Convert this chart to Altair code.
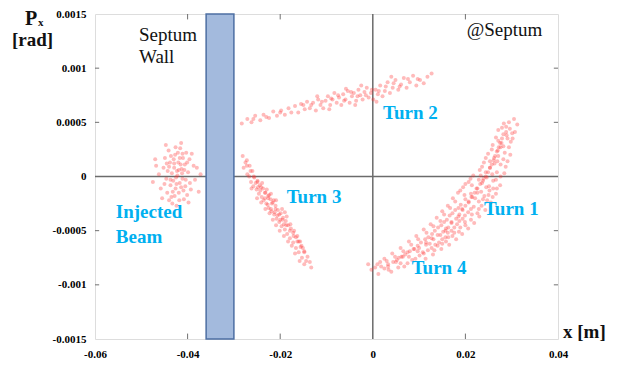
import altair as alt
import pandas as pd

# ---------------- data ----------------
inj_pts = [
    (-0.0422, 0.00001), (-0.0413, 0.00007), (-0.0431, -0.00004), (-0.0405, -0.00009), (-0.0438, 0.00013),
    (-0.0419, -0.00015), (-0.0427, 0.00020), (-0.0446, -0.00002), (-0.0399, 0.00004), (-0.0410, 0.00017),
    (-0.0435, -0.00019), (-0.0416, 0.00026), (-0.0452, 0.00008), (-0.0393, -0.00012), (-0.0424, -0.00027),
    (-0.0441, 0.00024), (-0.0403, 0.00022), (-0.0458, -0.00011), (-0.0387, 0.00010), (-0.0429, 0.00008),
    (-0.0417, -0.00006), (-0.0434, 0.00003), (-0.0408, -0.00021), (-0.0444, -0.00015), (-0.0420, 0.00013),
    (-0.0411, -0.00002), (-0.0426, -0.00011), (-0.0449, 0.00017), (-0.0396, 0.00016), (-0.0437, -0.00008),
    (-0.0414, 0.00031), (-0.0401, -0.00017), (-0.0430, 0.00016), (-0.0462, 0.00002), (-0.0384, -0.00003),
    (-0.0423, 0.00005), (-0.0440, 0.00009), (-0.0406, 0.00011), (-0.0418, -0.00022), (-0.0433, -0.00025),
    (-0.0425, -0.00001), (-0.0412, 0.00003), (-0.0447, 0.00029), (-0.0391, 0.00021), (-0.0421, 0.00022),
    (-0.0455, -0.00020), (-0.0409, -0.00013), (-0.0436, 0.00019), (-0.0398, -0.00024), (-0.0428, -0.00018),
    (-0.0415, 0.00011), (-0.0443, 0.00005),
    (-0.0419, 0.00006), (-0.0432, -0.00014), (-0.0407, 0.00006), (-0.0426, 0.00027), (-0.0414, -0.00010),
    (-0.0445, 0.00012), (-0.0401, 0.00013), (-0.0437, -0.00003), (-0.0424, -0.00007), (-0.0411, 0.00021),
    (-0.0450, -0.00007), (-0.0395, -0.00006), (-0.0429, 0.00012), (-0.0417, 0.00017), (-0.0440, -0.00022),
    (-0.0404, -0.00003), (-0.0468, 0.00010), (-0.0380, 0.00008), (-0.0372, 0.00002), (-0.0376, -0.00014),
    (-0.0475, -0.00005), (-0.0470, 0.00016),
]

t2_pts = [
    (-0.0283, 0.00049), (-0.0271, 0.00053), (-0.0262, 0.00050), (-0.0254, 0.00056), (-0.0243, 0.00052),
    (-0.0236, 0.00057), (-0.0224, 0.00054), (-0.0215, 0.00060), (-0.0207, 0.00056), (-0.0198, 0.00061),
    (-0.0190, 0.00057), (-0.0182, 0.00063), (-0.0176, 0.00059),
    (-0.0168, 0.00065), (-0.0161, 0.00059), (-0.0155, 0.00067), (-0.0147, 0.00062), (-0.0142, 0.00069),
    (-0.0136, 0.00063), (-0.0129, 0.00068), (-0.0123, 0.00061), (-0.0118, 0.00071), (-0.0113, 0.00066),
    (-0.0107, 0.00063), (-0.0102, 0.00070), (-0.0097, 0.00074), (-0.0092, 0.00066), (-0.0087, 0.00071),
    (-0.0083, 0.00077), (-0.0078, 0.00068), (-0.0073, 0.00073), (-0.0068, 0.00066), (-0.0064, 0.00076),
    (-0.0059, 0.00071), (-0.0054, 0.00079), (-0.0050, 0.00068), (-0.0045, 0.00074), (-0.0041, 0.00077),
    (-0.0036, 0.00070), (-0.0031, 0.00080), (-0.0027, 0.00075), (-0.0022, 0.00071), (-0.0018, 0.00078),
    (-0.0013, 0.00082), (-0.0009, 0.00073), (-0.0004, 0.00077), (0.0001, 0.00071), (0.0006, 0.00080),
    (0.0011, 0.00076), (0.0016, 0.00084), (0.0021, 0.00074), (0.0026, 0.00079), (0.0032, 0.00087),
    (0.0037, 0.00077), (0.0043, 0.00082), (0.0049, 0.00089), (0.0055, 0.00080), (0.0061, 0.00085),
    (0.0067, 0.00091), (0.0073, 0.00082), (0.0080, 0.00087), (0.0087, 0.00093), (0.0094, 0.00084),
    (0.0102, 0.00089), (0.0110, 0.00086), (0.0118, 0.00092), (0.0127, 0.00095), (-0.0094, 0.00062),
    (-0.0038, 0.00066), (0.0008, 0.00069), (-0.0120, 0.00074), (-0.0058, 0.00081), (0.0040, 0.00092),
    (-0.0025, 0.00084),
    (-0.0150, 0.00066), (-0.0133, 0.00066), (-0.0110, 0.00069), (-0.0090, 0.00072), (-0.0075, 0.00075),
    (-0.0062, 0.00070), (-0.0047, 0.00078), (-0.0033, 0.00074), (-0.0015, 0.00075), (-0.0002, 0.00080),
    (0.0013, 0.00079), (0.0028, 0.00083), (0.0045, 0.00086), (0.0058, 0.00083), (0.0076, 0.00090),
    (0.0097, 0.00090), (-0.0200, 0.00059), (-0.0230, 0.00055), (-0.0258, 0.00053),
]

t3_pts = [
    (-0.0281, 0.00019), (-0.0272, 0.00015), (-0.0266, 0.00010), (-0.0279, 0.00008), (-0.0260, 0.00005),
    (-0.0271, 0.00002), (-0.0256, -0.00001), (-0.0263, -0.00005), (-0.0249, -0.00004), (-0.0258, -0.00009),
    (-0.0244, -0.00008), (-0.0251, -0.00012), (-0.0237, -0.00011), (-0.0246, -0.00016), (-0.0232, -0.00015),
    (-0.0240, -0.00019), (-0.0226, -0.00018), (-0.0236, -0.00022), (-0.0221, -0.00021), (-0.0230, -0.00025),
    (-0.0216, -0.00024), (-0.0225, -0.00029), (-0.0210, -0.00027), (-0.0219, -0.00032), (-0.0205, -0.00031),
    (-0.0213, -0.00035), (-0.0199, -0.00034), (-0.0208, -0.00039), (-0.0194, -0.00038), (-0.0202, -0.00042),
    (-0.0188, -0.00041), (-0.0197, -0.00046), (-0.0183, -0.00045), (-0.0190, -0.00049), (-0.0177, -0.00048),
    (-0.0185, -0.00053), (-0.0172, -0.00052), (-0.0179, -0.00057), (-0.0166, -0.00056), (-0.0172, -0.00061),
    (-0.0160, -0.00060), (-0.0166, -0.00066), (-0.0154, -0.00064), (-0.0160, -0.00070), (-0.0148, -0.00069),
    (-0.0153, -0.00075), (-0.0141, -0.00074), (-0.0136, -0.00079), (-0.0148, -0.00081), (-0.0133, -0.00084),
    (-0.0233, -0.00020), (-0.0243, -0.00013), (-0.0227, -0.00026), (-0.0220, -0.00030), (-0.0212, -0.00033),
    (-0.0206, -0.00036), (-0.0200, -0.00040), (-0.0192, -0.00044), (-0.0224, -0.00017), (-0.0214, -0.00022),
    (-0.0250, -0.00020), (-0.0190, -0.00033),
    (-0.0275, 0.00013), (-0.0267, 0.00000), (-0.0253, -0.00006), (-0.0262, -0.00011), (-0.0239, -0.00006),
    (-0.0248, -0.00010), (-0.0229, -0.00012), (-0.0241, -0.00024), (-0.0220, -0.00016), (-0.0232, -0.00030),
    (-0.0209, -0.00022), (-0.0223, -0.00034), (-0.0216, -0.00040), (-0.0196, -0.00030), (-0.0209, -0.00045),
    (-0.0186, -0.00037), (-0.0201, -0.00050), (-0.0178, -0.00044), (-0.0192, -0.00055), (-0.0170, -0.00050),
    (-0.0183, -0.00060), (-0.0163, -0.00055), (-0.0175, -0.00064), (-0.0157, -0.00060), (-0.0168, -0.00071),
    (-0.0151, -0.00066), (-0.0144, -0.00078), (-0.0158, -0.00078),
    (-0.0272, 0.00010), (-0.0264, 0.00005), (-0.0257, 0.00000), (-0.0249, -0.00005), (-0.0241, -0.00010),
    (-0.0233, -0.00015), (-0.0226, -0.00020), (-0.0218, -0.00025), (-0.0210, -0.00030), (-0.0202, -0.00035),
    (-0.0195, -0.00040), (-0.0187, -0.00045), (-0.0179, -0.00050), (-0.0171, -0.00055), (-0.0163, -0.00060),
    (-0.0156, -0.00065), (-0.0148, -0.00070),
]

t14_pts = [
    (0.0305, 0.00053), (0.0283, 0.00049), (0.0296, 0.00044), (0.0312, 0.00048), (0.0271, 0.00043),
    (0.0289, 0.00038), (0.0302, 0.00035), (0.0266, 0.00036), (0.0278, 0.00031), (0.0294, 0.00027),
    (0.0259, 0.00029), (0.0285, 0.00022), (0.0270, 0.00024), (0.0249, 0.00021), (0.0262, 0.00017),
    (0.0291, 0.00014), (0.0276, 0.00011), (0.0240, 0.00013), (0.0253, 0.00008), (0.0268, 0.00004),
    (0.0231, 0.00006), (0.0284, 0.00003), (0.0246, -0.00001), (0.0217, 0.00001), (0.0260, -0.00004),
    (0.0236, -0.00006), (0.0275, -0.00008), (0.0207, -0.00005), (0.0224, -0.00011), (0.0252, -0.00013),
    (0.0195, -0.00010), (0.0241, -0.00018), (0.0212, -0.00016), (0.0266, -0.00016), (0.0184, -0.00015),
    (0.0229, -0.00023), (0.0200, -0.00021), (0.0255, -0.00024), (0.0173, -0.00020), (0.0218, -0.00028),
    (0.0190, -0.00026), (0.0243, -0.00031), (0.0162, -0.00027), (0.0206, -0.00033), (0.0178, -0.00031),
    (0.0230, -0.00037), (0.0150, -0.00032), (0.0194, -0.00039), (0.0166, -0.00036), (0.0219, -0.00043),
    (0.0138, -0.00038), (0.0182, -0.00044), (0.0154, -0.00042), (0.0206, -0.00048), (0.0125, -0.00044),
    (0.0170, -0.00050), (0.0141, -0.00047), (0.0193, -0.00053), (0.0110, -0.00049), (0.0157, -0.00056),
    (0.0128, -0.00053), (0.0180, -0.00058), (0.0094, -0.00055), (0.0143, -0.00061), (0.0113, -0.00058),
    (0.0165, -0.00063), (0.0078, -0.00060), (0.0127, -0.00066), (0.0097, -0.00064), (0.0148, -0.00067),
    (0.0060, -0.00066), (0.0110, -0.00071), (0.0080, -0.00069), (0.0130, -0.00072), (0.0042, -0.00071),
    (0.0092, -0.00076), (0.0062, -0.00074), (0.0025, -0.00076), (0.0075, -0.00080), (0.0044, -0.00079),
    (0.0010, -0.00081), (0.0055, -0.00084), (0.0025, -0.00085), (-0.0003, -0.00086), (0.0012, -0.00090),
    (0.0040, -0.00088),
    (0.0288, 0.00041), (0.0276, 0.00027), (0.0263, 0.00012), (0.0271, 0.00019), (0.0258, 0.00002),
    (0.0244, 0.00004), (0.0236, 0.00009), (0.0251, -0.00009), (0.0229, -0.00003), (0.0214, -0.00008),
    (0.0234, -0.00014), (0.0221, -0.00020), (0.0247, -0.00022), (0.0207, -0.00024), (0.0198, -0.00017),
    (0.0235, -0.00027), (0.0212, -0.00030), (0.0185, -0.00029), (0.0226, -0.00034), (0.0199, -0.00036),
    (0.0172, -0.00034), (0.0212, -0.00040), (0.0187, -0.00041), (0.0160, -0.00040), (0.0200, -0.00045),
    (0.0176, -0.00047), (0.0148, -0.00045), (0.0186, -0.00051), (0.0162, -0.00052), (0.0134, -0.00050),
    (0.0172, -0.00055), (0.0150, -0.00058), (0.0120, -0.00056), (0.0158, -0.00060), (0.0135, -0.00063),
    (0.0104, -0.00061), (0.0140, -0.00064), (0.0119, -0.00068), (0.0088, -0.00067), (0.0101, -0.00073),
    (0.0070, -0.00072), (0.0052, -0.00077), (0.0085, -0.00077), (0.0033, -0.00081), (0.0018, -0.00083),
    (0.0114, -0.00076), (0.0298, 0.00032), (0.0282, 0.00016), (0.0301, 0.00040), (0.0268, -0.00011),
    (0.0259, -0.00019),
    (0.0294, 0.00050), (0.0279, 0.00045), (0.0307, 0.00041), (0.0271, 0.00033), (0.0291, 0.00035),
    (0.0257, 0.00025), (0.0282, 0.00028), (0.0297, 0.00020), (0.0244, 0.00017), (0.0269, 0.00014),
    (0.0287, 0.00009), (0.0233, 0.00001), (0.0253, 0.00014), (0.0276, 0.00000), (0.0211, -0.00002),
    (0.0239, -0.00002), (0.0266, -0.00003), (0.0200, -0.00007), (0.0245, -0.00010), (0.0260, -0.00011),
    (0.0189, -0.00013), (0.0226, -0.00015), (0.0250, -0.00017), (0.0178, -0.00023), (0.0215, -0.00019),
    (0.0238, -0.00021), (0.0167, -0.00029), (0.0193, -0.00030), (0.0229, -0.00030), (0.0154, -0.00035),
    (0.0185, -0.00037), (0.0214, -0.00035), (0.0146, -0.00041), (0.0170, -0.00042), (0.0199, -0.00042),
    (0.0131, -0.00046), (0.0158, -0.00048), (0.0189, -0.00047), (0.0116, -0.00052), (0.0146, -0.00054),
    (0.0176, -0.00052), (0.0098, -0.00058), (0.0131, -0.00058), (0.0163, -0.00056), (0.0083, -0.00063),
    (0.0115, -0.00063), (0.0150, -0.00062), (0.0066, -0.00069), (0.0097, -0.00069), (0.0133, -0.00068),
    (0.0048, -0.00074), (0.0078, -0.00074), (0.0108, -0.00070), (0.0030, -0.00078), (0.0060, -0.00080),
    (0.0016, -0.00079), (0.0005, -0.00084), (0.0034, -0.00086), (-0.0010, -0.00081), (0.0068, -0.00083),
    (0.0033, -0.00083), (0.0050, -0.00079), (0.0065, -0.00074), (0.0090, -0.00067), (0.0115, -0.00061),
    (0.0140, -0.00054), (0.0163, -0.00047), (0.0180, -0.00039), (0.0194, -0.00031), (0.0207, -0.00023),
    (0.0220, -0.00015), (0.0232, -0.00007), (0.0244, 0.00000), (0.0253, 0.00008), (0.0261, 0.00015),
    (0.0268, 0.00023), (0.0275, 0.00031), (0.0282, 0.00039), (0.0288, 0.00046),
    (0.0075, -0.00070), (0.0100, -0.00066), (0.0127, -0.00057), (0.0152, -0.00051), (0.0170, -0.00043),
    (0.0187, -0.00035), (0.0200, -0.00027), (0.0213, -0.00019), (0.0226, -0.00011), (0.0238, -0.00004),
    (0.0249, 0.00004), (0.0257, 0.00011), (0.0264, 0.00019), (0.0272, 0.00027), (0.0279, 0.00035),
    (0.0056, -0.00075), (0.0123, -0.00062), (0.0157, -0.00050),
]

wall_x = [-0.036, -0.030]
y_range = [-0.0015, 0.0015]
x_range = [-0.06, 0.04]
x_tick_values = [-0.06, -0.04, -0.02, 0, 0.02, 0.04]
y_tick_values = [-0.0015, -0.001, -0.0005, 0, 0.0005, 0.001, 0.0015]
x_inner_ticks = [-0.04, -0.02, 0.02]
y_inner_ticks = [-0.001, -0.0005, 0.0005, 0.001]

black_labels = ["Septum", "Wall", "@Septum"]
black_x = [-0.0505, -0.0505, 0.0203]
black_y = [0.00125, 0.00105, 0.00130]

blue_labels = ["Turn 2", "Turn 3", "Turn 1", "Turn 4", "Injected", "Beam"]
blue_x = [0.0022, -0.0186, 0.0240, 0.0084, -0.0555, -0.0555]
blue_y = [0.00053, -0.000245, -0.000355, -0.00090, -0.000383, -0.000614]

# ---------------- chart ----------------
all_pts = inj_pts + t2_pts + t3_pts + t14_pts
pts = pd.DataFrame({"x": [p[0] for p in all_pts], "y": [p[1] for p in all_pts]})

xs = alt.Scale(domain=x_range, nice=False, zero=False)
ys = alt.Scale(domain=y_range, nice=False, zero=False)
FONT = "Liberation Serif"

x_axis = alt.Axis(values=x_tick_values, title=None, grid=False, ticks=False, domain=False,
                  labelExpr="'' + datum.value", labelFont=FONT, labelFontWeight="bold",
                  labelFontSize=11, labelColor="#000", labelPadding=9, labelFlush=False)
y_axis = alt.Axis(values=y_tick_values, title=None, grid=False, ticks=False, domain=False,
                  labelExpr="'' + datum.value", labelFont=FONT, labelFontWeight="bold",
                  labelFontSize=11, labelColor="#000", labelPadding=9, labelFlush=False)

zero_v = alt.Chart(pd.DataFrame({"v": [0]})).mark_rule(color="#6b6b6b", strokeWidth=1.5).encode(
    x=alt.X("v:Q", scale=xs, axis=x_axis))
zero_h = alt.Chart(pd.DataFrame({"v": [0]})).mark_rule(color="#6b6b6b", strokeWidth=1.5).encode(
    y=alt.Y("v:Q", scale=ys, axis=y_axis))

wall = alt.Chart(pd.DataFrame({"x1": [wall_x[0]], "x2": [wall_x[1]],
                               "y1": [y_range[0]], "y2": [y_range[1]]})).mark_rect(
    fill="#a3badd", stroke="#4d6fa3", strokeWidth=1.5).encode(
    x=alt.X("x1:Q", scale=xs), x2="x2:Q", y=alt.Y("y1:Q", scale=ys), y2="y2:Q")

points = alt.Chart(pts).mark_circle(color="#ff3030", size=16, opacity=0.33).encode(
    x=alt.X("x:Q", scale=xs), y=alt.Y("y:Q", scale=ys))

tb = pd.DataFrame({"v": x_inner_ticks})
tl = pd.DataFrame({"v": y_inner_ticks})
tick_style = dict(color="#707070", strokeWidth=1)
ticks_bottom = alt.Chart(tb).mark_rule(**tick_style).encode(
    x=alt.X("v:Q", scale=xs), y=alt.datum(y_range[0]), y2=alt.datum(y_range[0] + 0.00005))
ticks_top = alt.Chart(tb).mark_rule(**tick_style).encode(
    x=alt.X("v:Q", scale=xs), y=alt.datum(y_range[1]), y2=alt.datum(y_range[1] - 0.00005))
ticks_left = alt.Chart(tl).mark_rule(**tick_style).encode(
    y=alt.Y("v:Q", scale=ys), x=alt.datum(x_range[0]), x2=alt.datum(x_range[0] + 0.0009))
ticks_right = alt.Chart(tl).mark_rule(**tick_style).encode(
    y=alt.Y("v:Q", scale=ys), x=alt.datum(x_range[1]), x2=alt.datum(x_range[1] - 0.0009))

black_txt = alt.Chart(pd.DataFrame({"t": black_labels, "x": black_x, "y": black_y})).mark_text(
    font=FONT, fontSize=19, color="#111", align="left", baseline="alphabetic").encode(
    x=alt.X("x:Q", scale=xs), y=alt.Y("y:Q", scale=ys), text="t")
blue_txt = alt.Chart(pd.DataFrame({"t": blue_labels, "x": blue_x, "y": blue_y})).mark_text(
    font=FONT, fontSize=19, fontWeight="bold", color="#00b0f0", align="left",
    baseline="alphabetic").encode(
    x=alt.X("x:Q", scale=xs), y=alt.Y("y:Q", scale=ys), text="t")

title_style = dict(font=FONT, fontWeight="bold", color="#111", align="left", baseline="alphabetic")
p_txt = alt.Chart(pd.DataFrame({"t": ["P"]})).mark_text(fontSize=20, **title_style).encode(
    x=alt.value(-70), y=alt.value(11), text="t")
psub_txt = alt.Chart(pd.DataFrame({"t": ["x"]})).mark_text(fontSize=11, **title_style).encode(
    x=alt.value(-57), y=alt.value(12), text="t")
rad_txt = alt.Chart(pd.DataFrame({"t": ["[rad]"]})).mark_text(fontSize=19, **title_style).encode(
    x=alt.value(-83), y=alt.value(32), text="t")
xm_txt = alt.Chart(pd.DataFrame({"t": ["x [m]"]})).mark_text(fontSize=19, **title_style).encode(
    x=alt.value(468), y=alt.value(324), text="t")

chart = alt.layer(
    zero_v, zero_h, wall, points, ticks_bottom, ticks_top, ticks_left, ticks_right,
    black_txt, blue_txt, p_txt, psub_txt, rad_txt, xm_txt
).properties(
    width=463, height=325,
    autosize=alt.AutoSizeParams(type="none"),
    padding={"left": 87, "top": 6, "right": 52, "bottom": 22},
).configure_view(stroke="#808080", strokeWidth=1).configure(background="white")

chart.save("out.html", embed_options={"renderer": "svg", "actions": False})
